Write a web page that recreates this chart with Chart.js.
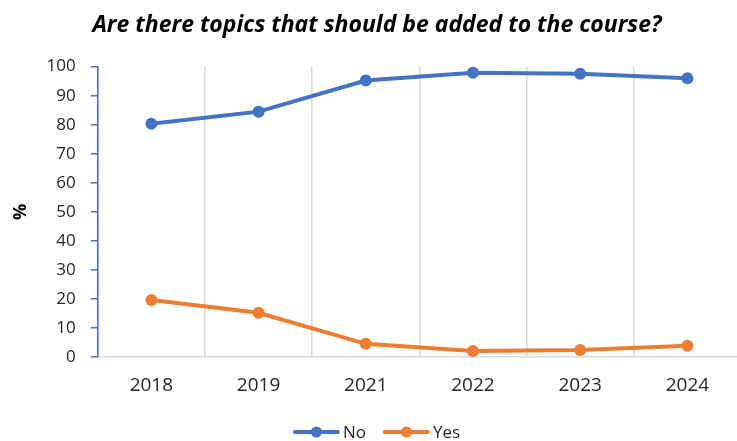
<!DOCTYPE html>
<html><head><meta charset="utf-8">
<script src="https://cdn.jsdelivr.net/npm/chart.js@4/dist/chart.umd.min.js"></script>
<style>
html,body{margin:0;padding:0;background:#fff;overflow:hidden;}
#wrap{width:737px;height:441px;overflow:hidden;position:relative;}
#box{width:747px;height:441px;position:absolute;left:0;top:0;}
</style></head>
<body><div id="wrap"><div id="box"><canvas id="c"></canvas></div></div>
<script>
const categories = ['2018','2019','2021','2022','2023','2024'];
const noValues  = [80.3, 84.5, 95.2, 97.9, 97.5, 96.0];
const yesValues = [19.7, 15.3, 4.6, 2.1, 2.5, 3.9];
const seriesNames = ['No','Yes'];
const title = 'Are there topics that should be added to the course?';
const FONT = '"Open Sans", "Noto Sans", sans-serif';

// custom legend: line + dot + label, centred at the bottom
const customLegend = {
  id:'customLegend',
  afterDraw(chart){
    const ctx = chart.ctx;
    const lineLen = 47, gapText = 3, gapItem = 17, y = 432;
    ctx.save();
    ctx.font = '17px ' + FONT;
    const items = chart.data.datasets.map(ds => ({ds, w: lineLen + gapText + ctx.measureText(ds.label).width}));
    const total = items.reduce((a,it)=>a+it.w,0) + gapItem*(items.length-1);
    let x = chart.width/2 - total/2 + 3;
    items.forEach(it=>{
      ctx.strokeStyle = it.ds.borderColor; ctx.lineWidth = 4; ctx.lineCap = 'round';
      ctx.beginPath(); ctx.moveTo(x+2, y); ctx.lineTo(x+lineLen-2, y); ctx.stroke();
      ctx.fillStyle = it.ds.borderColor;
      ctx.beginPath(); ctx.arc(x+lineLen/2, y, 5.5, 0, Math.PI*2); ctx.fill();
      ctx.fillStyle = '#262626'; ctx.textBaseline = 'middle'; ctx.textAlign = 'left';
      ctx.fillText(it.ds.label, x+lineLen+gapText, y+1);
      x += it.w + gapItem;
    });
    ctx.restore();
  }
};

new Chart(document.getElementById('c'), {
  type:'line',
  data:{
    labels: categories,
    datasets:[
      {label:seriesNames[0], data:noValues, borderColor:'#4472C4', backgroundColor:'#4472C4',
       borderWidth:4, pointRadius:6, pointHoverRadius:6, pointBackgroundColor:'#4472C4', pointBorderWidth:0, tension:0},
      {label:seriesNames[1], data:yesValues, borderColor:'#ED7D31', backgroundColor:'#ED7D31',
       borderWidth:4, pointRadius:6, pointHoverRadius:6, pointBackgroundColor:'#ED7D31', pointBorderWidth:0, tension:0}
    ]
  },
  options:{
    responsive:true, maintainAspectRatio:false, animation:false,
    layout:{padding:{left:7,right:0,top:4,bottom:27}},
    plugins:{
      title:{display:true, text:title, color:'#000',
        font:{family:FONT, size:23, weight:'bold', style:'italic'}, padding:{top:8,bottom:27}},
      legend:{display:false},
      tooltip:{enabled:false}
    },
    scales:{
      x:{offset:true,
        grid:{offset:true, color:'#d9d9d9', lineWidth:1.5, drawTicks:false},
        border:{color:'#d9d9d9', width:1.5},
        ticks:{color:'#262626', font:{family:FONT, size:19}, padding:17}},
      y:{min:0, max:100,
        grid:{drawOnChartArea:false, drawTicks:true, tickLength:7, color:'#4472C4', lineWidth:1.5},
        border:{color:'#4472C4', width:1.5},
        ticks:{stepSize:10, color:'#262626', font:{family:FONT, size:17}, padding:15},
        title:{display:true, text:'%', color:'#000', font:{family:FONT, size:18, weight:'bold'}, padding:{top:3,bottom:0}}}
    }
  },
  plugins:[customLegend]
});
</script></body></html>
